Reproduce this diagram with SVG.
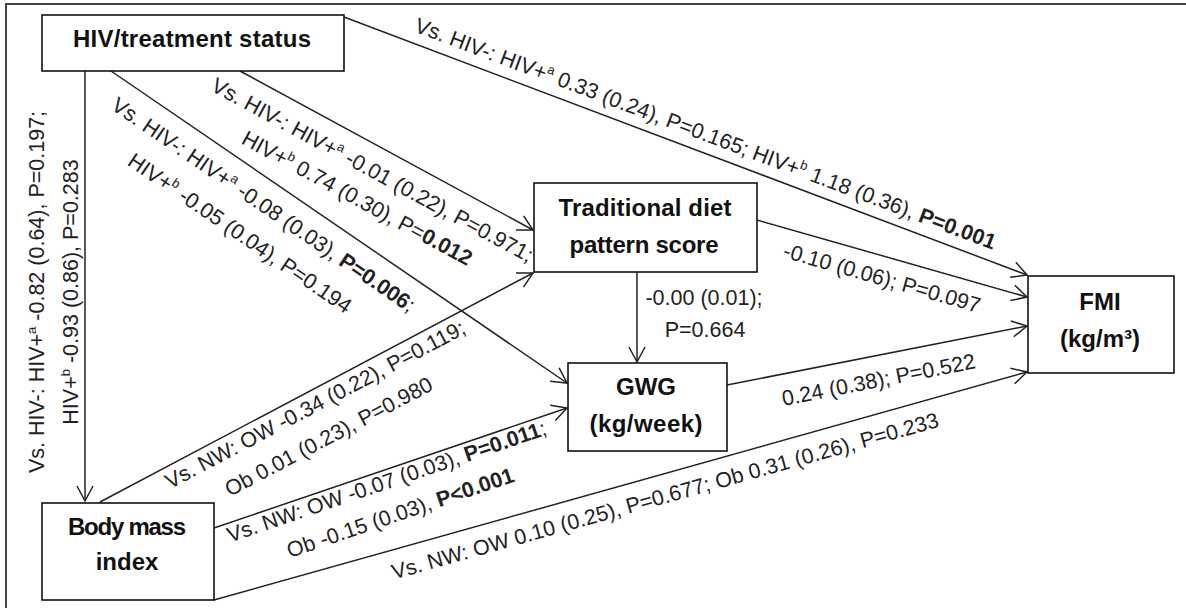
<svg xmlns="http://www.w3.org/2000/svg" width="1186" height="608" viewBox="0 0 1186 608">
<style>
.node rect{fill:#fff;stroke:#111;stroke-width:1.6}
.nt{font-family:"Liberation Sans",Arial,sans-serif;font-weight:bold;font-size:24px;fill:#111;text-anchor:middle}
.lb{font-family:"Liberation Sans",Arial,sans-serif;font-size:21.5px;fill:#222;text-anchor:middle}
.b{font-weight:bold}
.sup{font-size:13px}
.conn path{fill:none;stroke:#222;stroke-width:1.5;marker-end:url(#arr)}
</style>
<defs>
<marker id="arr" markerUnits="userSpaceOnUse" markerWidth="20" markerHeight="20" viewBox="-16 -10 18 20" refX="0" refY="0" orient="auto">
<path d="M-15,-8 L0,0 L-15,8" fill="none" stroke="#222" stroke-width="1.5"/>
</marker>
</defs>
<rect x="0" y="0" width="1186" height="608" fill="#fff"/>
<rect x="6" y="4" width="1200" height="620" fill="none" stroke="#444" stroke-width="2"/>
<g id="connectors" class="conn">
<path d="M85,71 L85,501"/>
<path d="M111,71 L567,383"/>
<path d="M240,71 L533,230"/>
<path d="M344,17 L1027,275"/>
<path d="M757,220 L1027,297"/>
<path d="M637,272 L637,362"/>
<path d="M100,502 L533,273"/>
<path d="M214,528 L567,408"/>
<path d="M214,600 L1027,372"/>
<path d="M727,385 L1027,326"/>
</g>
<g id="labels">
<text class="lb" transform="translate(43.5,292) rotate(-90)">Vs. HIV-: HIV+<tspan class="sup" dy="-8">a</tspan><tspan dy="8"> -0.82 (0.64), P=0.197;</tspan></text>
<text class="lb" transform="translate(78,292) rotate(-90)">HIV+<tspan class="sup" dy="-8">b</tspan><tspan dy="8"> -0.93 (0.86), P=0.283</tspan></text>
<text class="lb" transform="translate(703,140.5) rotate(20.67)">Vs. HIV-: HIV+<tspan class="sup" dy="-8">a</tspan><tspan dy="8"> 0.33 (0.24), P=0.165; HIV+</tspan><tspan class="sup" dy="-8">b</tspan><tspan dy="8"> 1.18 (0.36), </tspan><tspan class="b">P=0.001</tspan></text>
<text class="lb" transform="translate(369,176.5) rotate(28.5)">Vs. HIV-: HIV+<tspan class="sup" dy="-8">a</tspan><tspan dy="8"> -0.01 (0.22), P=0.971;</tspan></text>
<text class="lb" transform="translate(353.7,204.6) rotate(28.5)">HIV+<tspan class="sup" dy="-8">b</tspan><tspan dy="8"> 0.74 (0.30), P=</tspan><tspan class="b">0.012</tspan></text>
<text class="lb" transform="translate(259.5,210.8) rotate(34.4)">Vs. HIV-: HIV+<tspan class="sup" dy="-8">a</tspan><tspan dy="8"> -0.08 (0.03), </tspan><tspan class="b">P=0.006</tspan>;</text>
<text class="lb" transform="translate(235.8,239.3) rotate(34.4)">HIV+<tspan class="sup" dy="-8">b</tspan><tspan dy="8"> -0.05 (0.04), P=0.194</tspan></text>
<text class="lb" transform="translate(880,285) rotate(15.9)">-0.10 (0.06); P=0.097</text>
<text class="lb" x="704" y="305">-0.00 (0.01);</text>
<text class="lb" x="705" y="337">P=0.664</text>
<text class="lb" transform="translate(318.5,411) rotate(-27.8)">Vs. NW: OW -0.34 (0.22), P=0.119;</text>
<text class="lb" transform="translate(332,443) rotate(-27.8)">Ob 0.01 (0.23), P=0.980</text>
<text class="lb" transform="translate(389,488.5) rotate(-18.8)">Vs. NW: OW -0.07 (0.03), <tspan class="b">P=0.011</tspan>;</text>
<text class="lb" transform="translate(402.7,519.7) rotate(-18.8)">Ob -0.15 (0.03), <tspan class="b">P&lt;0.001</tspan></text>
<text class="lb" transform="translate(667,503) rotate(-15.65)">Vs. NW: OW 0.10 (0.25), P=0.677; Ob 0.31 (0.26), P=0.233</text>
<text class="lb" transform="translate(880,387) rotate(-11.1)">0.24 (0.38); P=0.522</text>
</g>
<g id="hiv" class="node">
<rect x="42" y="15" width="302" height="56"/>
<text class="nt" x="192" y="47" textLength="238">HIV/treatment status</text>
</g>
<g id="bmi" class="node">
<rect x="42" y="503" width="172" height="97"/>
<text class="nt" x="127" y="535" textLength="118">Body mass</text>
<text class="nt" x="127" y="570">index</text>
</g>
<g id="diet" class="node">
<rect x="534" y="183" width="223" height="89"/>
<text class="nt" x="645" y="216" textLength="173">Traditional diet</text>
<text class="nt" x="644" y="253" textLength="149">pattern score</text>
</g>
<g id="gwg" class="node">
<rect x="568" y="363" width="159" height="88"/>
<text class="nt" x="646" y="395">GWG</text>
<text class="nt" x="646" y="432" textLength="113">(kg/week)</text>
</g>
<g id="fmi" class="node">
<rect x="1028" y="276" width="146" height="97"/>
<text class="nt" x="1100" y="310">FMI</text>
<text class="nt" x="1100" y="347">(kg/m³)</text>
</g>
</svg>
